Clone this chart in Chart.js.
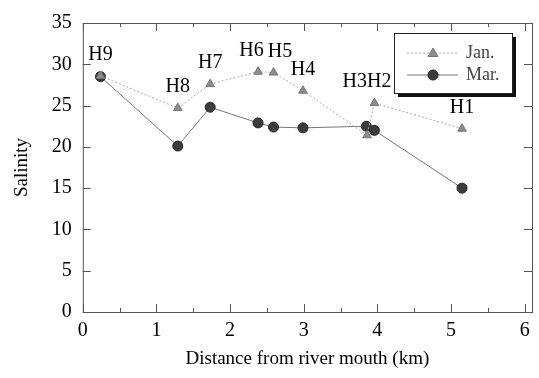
<!DOCTYPE html>
<html>
<head>
<meta charset="utf-8">
<script src="https://cdn.jsdelivr.net/npm/chart.js@4/dist/chart.umd.min.js"></script>
<style>
  html, body { margin: 0; padding: 0; background: #fff; }
  #wrap { width: 539px; height: 378px; }
</style>
</head>
<body>
<div id="wrap"><canvas id="salinityChart"></canvas></div>
<script>
// Station names, ordered from the sea end towards upstream (as plotted)
const stations = ['H9', 'H8', 'H7', 'H6', 'H5', 'H4', 'H3', 'H2', 'H1'];
// Distance from river mouth (km)
const distJan = [0.24, 1.29, 1.73, 2.38, 2.59, 2.99, 3.86, 3.96, 5.15];
const distMar = [0.24, 1.29, 1.73, 2.38, 2.59, 2.99, 3.85, 3.96, 5.15];
// Salinity
const salJan = [28.6, 24.7, 27.6, 29.1, 29.0, 26.8, 21.4, 25.3, 22.2];
const salMar = [28.5, 20.1, 24.8, 22.9, 22.4, 22.3, 22.5, 22.0, 15.0];
// Axis ticks
const xTicks = [0, 1, 2, 3, 4, 5, 6];
const yTicks = [0, 5, 10, 15, 20, 25, 30, 35];

const serif = '"Liberation Serif", "DejaVu Serif", serif';

const toPoints = (xs, ys) => xs.map((x, i) => ({ x: x, y: ys[i] }));

/**
 * Frame and inward tick marks on all four sides
 */
const framePlugin = {
    id: 'frame',
    afterDraw(chart) {
        const ctx = chart.ctx;
        const a = chart.chartArea;
        const xs = chart.scales.x;
        const ys = chart.scales.y;
        ctx.save();
        ctx.strokeStyle = '#555';
        ctx.lineWidth = 1;
        ctx.strokeRect(a.left + 0.5, a.top + 0.5, a.right - a.left, a.bottom - a.top);
        ctx.beginPath();
        for (let v = 0; v <= 6; v += 0.5) {
            const px = Math.round(xs.getPixelForValue(v)) + 0.5;
            const len = Number.isInteger(v) ? 8 : 4;
            ctx.moveTo(px, a.bottom);
            ctx.lineTo(px, a.bottom - len);
            ctx.moveTo(px, a.top);
            ctx.lineTo(px, a.top + len);
        }
        yTicks.forEach(v => {
            const py = Math.round(ys.getPixelForValue(v)) + 0.5;
            ctx.moveTo(a.left, py);
            ctx.lineTo(a.left + 8, py);
            ctx.moveTo(a.right, py);
            ctx.lineTo(a.right - 8, py);
        });
        ctx.stroke();
        ctx.restore();
    }
};

/**
 * Station labels above each pair of points (close stations share one label)
 */
const stationLabelPlugin = {
    id: 'stationLabels',
    afterDatasetsDraw(chart) {
        const ctx = chart.ctx;
        const xs = chart.scales.x;
        const ys = chart.scales.y;
        const groups = [];
        stations.forEach((name, i) => {
            const last = groups[groups.length - 1];
            if (last && Math.abs(distJan[i] - distJan[last.idx[last.idx.length - 1]]) < 0.15) {
                last.idx.push(i);
            } else {
                groups.push({ idx: [i] });
            }
        });
        ctx.save();
        ctx.font = '20px ' + serif;
        ctx.fillStyle = '#000';
        ctx.textAlign = 'center';
        ctx.textBaseline = 'middle';
        const labels = groups.map(g => {
            const text = g.idx.map(i => stations[i]).join('');
            const top = Math.max(...g.idx.map(i => Math.max(salJan[i], salMar[i])));
            return {
                text: text,
                x: xs.getPixelForValue(distJan[g.idx[0]]),
                y: ys.getPixelForValue(top) - 21,
                w: ctx.measureText(text).width
            };
        });
        // push apart labels that would overlap
        for (let i = 1; i < labels.length; i++) {
            const p = labels[i - 1], q = labels[i];
            const gap = (q.x - q.w / 2) - (p.x + p.w / 2);
            if (gap < 4 && Math.abs(q.y - p.y) < 16) {
                const shift = (4 - gap) / 2;
                p.x -= shift;
                q.x += shift;
            }
        }
        labels.forEach(l => ctx.fillText(l.text, l.x, l.y));
        ctx.restore();
    }
};

/**
 * Boxed legend with a drop shadow in the upper right corner
 */
const legendBoxPlugin = {
    id: 'legendBox',
    afterDraw(chart) {
        const ctx = chart.ctx;
        const a = chart.chartArea;
        const left = a.right - 138, top = a.top + 10, w = 118, h = 60;
        ctx.save();
        ctx.fillStyle = '#111';
        ctx.fillRect(left + 4, top + 4, w, h);
        ctx.fillStyle = '#fff';
        ctx.fillRect(left, top, w, h);
        ctx.strokeStyle = '#222';
        ctx.lineWidth = 1;
        ctx.strokeRect(left + 0.5, top + 0.5, w, h);
        ctx.font = '18px ' + serif;
        ctx.textBaseline = 'middle';
        ctx.textAlign = 'left';
        chart.data.datasets.forEach((ds, i) => {
            const y = top + 20 + i * 22;
            const cx = left + 39;
            ctx.strokeStyle = ds.borderColor;
            ctx.setLineDash(ds.borderDash || []);
            ctx.beginPath();
            ctx.moveTo(left + 13, y);
            ctx.lineTo(left + 64, y);
            ctx.stroke();
            ctx.setLineDash([]);
            ctx.fillStyle = ds.pointBackgroundColor;
            ctx.strokeStyle = ds.pointBorderColor;
            ctx.beginPath();
            if (ds.pointStyle === 'circle') {
                ctx.arc(cx, y, ds.pointRadius, 0, Math.PI * 2);
            } else {
                const r = ds.pointRadius;
                ctx.moveTo(cx, y - r);
                ctx.lineTo(cx + r, y + r * 0.7);
                ctx.lineTo(cx - r, y + r * 0.7);
                ctx.closePath();
            }
            ctx.fill();
            ctx.stroke();
            ctx.fillStyle = '#444';
            ctx.fillText(ds.label, left + 72, y);
        });
        ctx.restore();
    }
};

new Chart(document.getElementById('salinityChart'), {
    type: 'scatter',
    data: {
        datasets: [{
            label: 'Jan.',
            data: toPoints(distJan, salJan),
            showLine: true,
            borderColor: '#aaa',
            borderWidth: 1,
            borderDash: [2, 2],
            pointStyle: 'triangle',
            pointRadius: 5,
            pointBackgroundColor: '#8c8c8c',
            pointBorderColor: '#777',
            pointBorderWidth: 1
        }, {
            label: 'Mar.',
            data: toPoints(distMar, salMar),
            showLine: true,
            borderColor: '#777',
            borderWidth: 1,
            pointStyle: 'circle',
            pointRadius: 5,
            pointBackgroundColor: '#3c3c3c',
            pointBorderColor: '#222',
            pointBorderWidth: 1
        }]
    },
    options: {
        responsive: true,
        maintainAspectRatio: false,
        animation: false,
        layout: {
            padding: { top: 19, right: 7, bottom: 9, left: 11 }
        },
        plugins: {
            legend: { display: false },
            tooltip: { enabled: false }
        },
        scales: {
            x: {
                type: 'linear',
                min: 0,
                max: 6.1,
                afterBuildTicks: scale => { scale.ticks = xTicks.map(v => ({ value: v })); },
                grid: { display: false, drawTicks: false },
                border: { display: false },
                ticks: {
                    color: '#000',
                    font: { family: serif, size: 20, lineHeight: 1 },
                    padding: 9
                },
                title: {
                    display: true,
                    text: 'Distance from river mouth (km)',
                    color: '#000',
                    font: { family: serif, size: 19, lineHeight: 1 },
                    padding: { top: 0, bottom: 0 }
                }
            },
            y: {
                min: 0,
                max: 35,
                afterBuildTicks: scale => { scale.ticks = yTicks.map(v => ({ value: v })); },
                grid: { display: false, drawTicks: false },
                border: { display: false },
                ticks: {
                    color: '#000',
                    font: { family: serif, size: 20 },
                    padding: 11
                },
                title: {
                    display: true,
                    text: 'Salinity',
                    color: '#000',
                    font: { family: serif, size: 19 },
                    padding: { top: 0, bottom: 7 }
                }
            }
        }
    },
    plugins: [framePlugin, stationLabelPlugin, legendBoxPlugin]
});
</script>
</body>
</html>
